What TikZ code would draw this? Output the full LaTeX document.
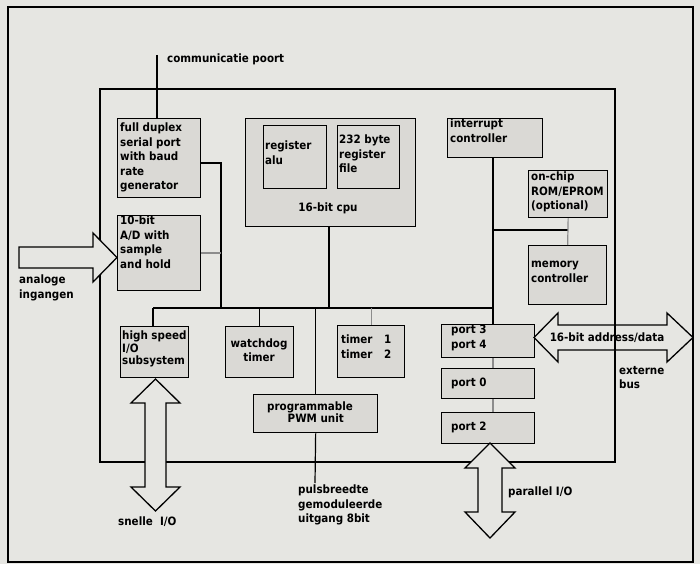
\documentclass[tikz,border=0pt]{standalone}
\usepackage{fontspec}
\setmainfont{DejaVu Sans Condensed}
\begin{document}
\begin{tikzpicture}[x=1pt,y=-1pt,
  blk/.style={draw=black, line width=1.3pt, fill=boxgrey, inner sep=0pt, anchor=north west},
  txt/.style={font=\fontsize{11.5}{14.5}\selectfont\bfseries, inner sep=0pt, align=left, anchor=west},
  ctxt/.style={font=\fontsize{11.5}{14.5}\selectfont\bfseries, inner sep=0pt, align=center},
  wire/.style={line width=1.2pt, black},
  gwire/.style={line width=1.2pt, black!45},
  fat/.style={draw=black, line width=1.3pt, fill=bggrey, line join=miter}
]
\definecolor{bggrey}{HTML}{E6E6E2}
\definecolor{boxgrey}{HTML}{DAD9D5}
\fill[bggrey] (0,0) rectangle (700,564);
\useasboundingbox (0,0) rectangle (700,564);
\draw[line width=1.3pt] (8,7) rectangle (693,562);

% chip outline
\draw[line width=1.3pt] (100,89) rectangle (615,462);

% blocks
\node[blk, minimum width=83pt, minimum height=79pt] (serial) at (117,118) {};
\node[blk, minimum width=83pt, minimum height=75pt] (ad) at (117,215) {};
\node[blk, minimum width=170pt, minimum height=108pt] (cpu) at (245,118) {};
\node[blk, minimum width=63pt, minimum height=63pt] (alu) at (263,125) {};
\node[blk, minimum width=62pt, minimum height=63pt] (rfile) at (337,125) {};
\node[blk, minimum width=95pt, minimum height=39pt] (irq) at (447,118) {};
\node[blk, minimum width=79pt, minimum height=47pt] (rom) at (528,170) {};
\node[blk, minimum width=78pt, minimum height=59pt] (mem) at (528,245) {};
\node[blk, minimum width=68pt, minimum height=51pt] (hs) at (120,326) {};
\node[blk, minimum width=68pt, minimum height=51pt] (wd) at (225,326) {};
\node[blk, minimum width=67pt, minimum height=52pt] (tmr) at (337,325) {};
\node[blk, minimum width=124pt, minimum height=38pt] (pwm) at (253,394) {};
\node[blk, minimum width=93pt, minimum height=33pt] (p34) at (441,324) {};
\node[blk, minimum width=93pt, minimum height=30pt] (p0) at (441,368) {};
\node[blk, minimum width=93pt, minimum height=31pt] (p2) at (441,412) {};

% texts in blocks
\node[txt, anchor=north west] at (120,123) {full duplex\\serial port\\with baud\\rate\\generator};
\node[txt, anchor=north west] at (120,216) {10-bit\\A/D with\\sample\\and hold};
\node[txt, anchor=north west] at (265,141) {register\\alu};
\node[txt, anchor=north west] at (339,135) {232 byte\\register\\file};
\node[ctxt] at (328,208) {16-bit cpu};
\node[txt, anchor=north west] at (450,119) {interrupt\\controller};
\node[txt, anchor=north west] at (531,172) {on-chip\\ROM/EPROM\\(optional)};
\node[txt, anchor=north west] at (531,261) {memory\\controller};
\node[txt, anchor=north west, font=\fontsize{11.5}{12.5}\selectfont\bfseries] at (122,331) {high speed\\I/O\\subsystem};
\node[ctxt] at (259,350) {watchdog\\timer};
\node[txt, anchor=north west] at (341,335) {timer\quad 1\\timer\quad 2};
\node[ctxt, font=\fontsize{11.5}{12}\selectfont\bfseries] at (310,412) {programmable\\\quad PWM unit};
\node[txt, anchor=north west] at (451,325) {port 3\\port 4};
\node[txt] at (451,383) {port 0};
\node[txt] at (451,427) {port 2};

% outside labels
\node[txt] at (167,59) {communicatie poort};
\node[txt, anchor=north west] at (19,275) {analoge\\ingangen};
\node[txt, anchor=north west] at (619,366) {externe\\bus};
\node[txt] at (508,492) {parallel I/O};
\node[txt, anchor=north west] at (298,485) {pulsbreedte\\gemoduleerde\\uitgang 8bit};
\node[txt] at (118,522) {snelle\ \ I/O};

% connectors
\coordinate (commtop) at (157,55);
\draw[wire] (commtop) -- (commtop |- serial.north);
\coordinate (busL) at (153,308);
\coordinate (busR) at (493,308);
\draw[wire] (busL) -- (busR);
\coordinate (sj) at (221,163);
\draw[wire] (serial.east |- sj) -- (sj) -- (sj |- busL);
\draw[gwire] (ad.east |- 0,253) -- (221,253);
\draw[wire] (cpu.south -| 329,0) -- (329,308);
\draw[wire] (busL) -- (busL |- hs.north);
\draw[wire] (wd.north |- busL) -- (wd.north);
\draw[gwire] (tmr.north |- busL) -- (tmr.north);
\draw[wire] (pwm.north |- busL) -- (pwm.north);
\coordinate (pwmout) at (315,483);
\draw[wire] (pwm.south) -- (pwmout);
\coordinate (irqx) at (493,157);
\draw[wire] (irqx) -- (irqx |- p34.north);
\coordinate (memj) at (568,230);
\draw[wire] (493,230) -- (memj);
\draw[gwire] (rom.south) -- (mem.north);
\draw[gwire] (p34.south -| 493,0) -- (p0.north -| 493,0);
\draw[gwire] (p0.south -| 493,0) -- (p2.north -| 493,0);

% fat arrows
\draw[fat] (19,247) -- (93,247) -- (93,233) -- (117,257.5) -- (93,282) -- (93,268) -- (19,268) -- cycle;
\draw[fat] (155.5,379) -- (180,403) -- (166,403) -- (166,487) -- (180,487) -- (155.5,511)
  -- (131,487) -- (145,487) -- (145,403) -- (131,403) -- cycle;
\draw[fat] (490,443) -- (515,468) -- (502,468) -- (502,512) -- (515,512) -- (490,538)
  -- (465,512) -- (478,512) -- (478,468) -- (465,468) -- cycle;
\draw[fat] (534,337.5) -- (558,313) -- (558,325) -- (667,325) -- (667,313) -- (693,337.5)
  -- (667,362) -- (667,350) -- (558,350) -- (558,362) -- cycle;
\draw[line width=1.3pt] (615,325) -- (615,350);
\node[ctxt] at (607,338) {16-bit address/data};
\end{tikzpicture}
\end{document}
